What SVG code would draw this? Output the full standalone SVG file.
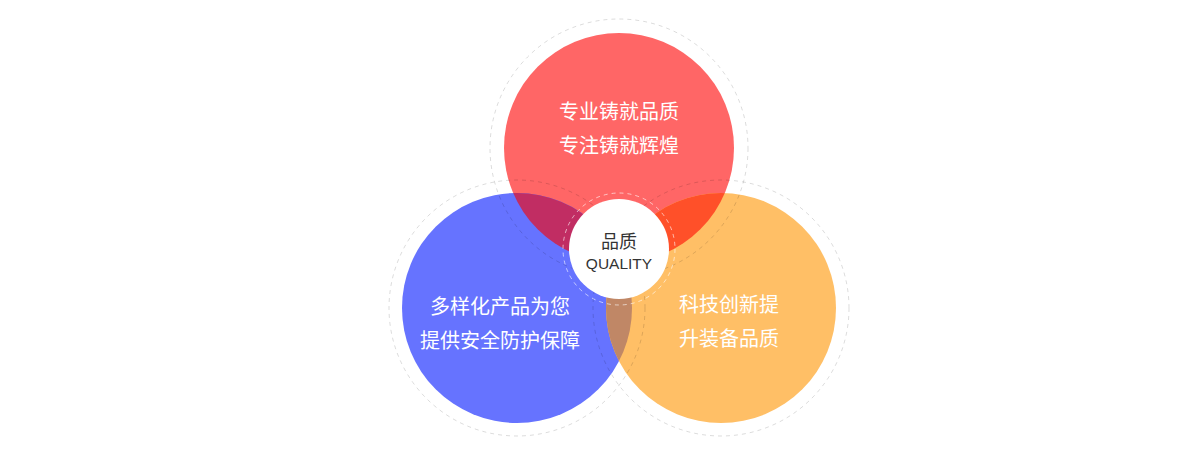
<svg xmlns="http://www.w3.org/2000/svg" width="1200" height="450" viewBox="0 0 1200 450">
  <defs>
    <style>
      .ring { fill: none; stroke: #000; stroke-opacity: 0.14; stroke-width: 1; stroke-dasharray: 4 4; }
      .lbl { font-family: "Noto Sans CJK SC", "Noto Sans", sans-serif; font-size: 20px; fill: #fff; text-anchor: middle; }
      .ctr-cn { font-family: "Noto Sans CJK SC", sans-serif; font-size: 18px; fill: #333; text-anchor: middle; }
      .ctr-en { font-family: "Liberation Sans", Arial, sans-serif; font-size: 15.5px; fill: #333; text-anchor: middle; }
    </style>
    <clipPath id="clipRed"><circle cx="619" cy="148" r="115"/></clipPath>
    <clipPath id="clipBlue"><circle cx="517" cy="308" r="115"/></clipPath>
  </defs>
  <rect width="1200" height="450" fill="#fff"/>

  <g id="red">
    <circle cx="619" cy="148" r="115" fill="#ff6666"/>
  </g>
  <g id="blue">
    <circle cx="517" cy="308" r="115" fill="#6673ff"/>
  </g>
  <g id="orange">
    <circle cx="721" cy="308" r="115" fill="#ffbf66"/>
  </g>
  <g id="overlaps">
    <circle cx="517" cy="308" r="115" fill="#c12d63" clip-path="url(#clipRed)"/>
    <circle cx="721" cy="308" r="115" fill="#ff5029" clip-path="url(#clipRed)"/>
    <circle cx="721" cy="308" r="115" fill="#c08766" clip-path="url(#clipBlue)"/>
  </g>

  <g id="rings">
    <circle class="ring" cx="619" cy="148" r="129"/>
    <circle class="ring" cx="517" cy="308" r="128"/>
    <circle class="ring" cx="721" cy="308" r="128"/>
    <circle cx="619" cy="249" r="56" fill="none" stroke="#fff" stroke-opacity="0.6" stroke-dasharray="4 4"/>
  </g>

  <g id="red-text">
    <text class="lbl" x="619" y="119">专业铸就品质</text>
    <text class="lbl" x="619" y="153">专注铸就辉煌</text>
  </g>
  <g id="blue-text">
    <text class="lbl" x="500" y="314">多样化产品为您</text>
    <text class="lbl" x="500" y="348">提供安全防护保障</text>
  </g>
  <g id="orange-text">
    <text class="lbl" x="729" y="312">科技创新提</text>
    <text class="lbl" x="729" y="346">升装备品质</text>
  </g>

  <g id="center">
    <circle cx="619" cy="249" r="50" fill="#fff"/>
    <text class="ctr-cn" x="619" y="248">品质</text>
    <text class="ctr-en" x="619" y="269">QUALITY</text>
  </g>
</svg>
